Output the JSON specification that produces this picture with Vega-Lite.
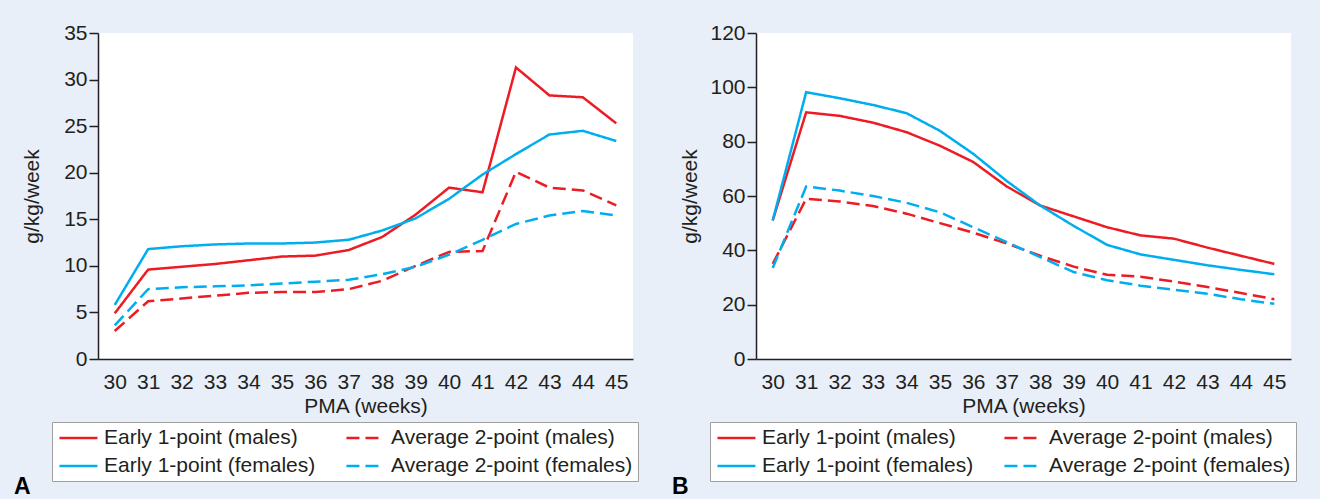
{
  "$schema": "https://vega.github.io/schema/vega-lite/v6.json",
  "background": "#e8eff8",
  "padding": {"left": 14, "top": 22, "right": 24, "bottom": 0},
  "datasets": {
    "A": [
      {"week": 30, "v": 4.9, "series": "Early 1-point (males)"},
      {"week": 31, "v": 9.6, "series": "Early 1-point (males)"},
      {"week": 32, "v": 9.9, "series": "Early 1-point (males)"},
      {"week": 33, "v": 10.2, "series": "Early 1-point (males)"},
      {"week": 34, "v": 10.6, "series": "Early 1-point (males)"},
      {"week": 35, "v": 11.0, "series": "Early 1-point (males)"},
      {"week": 36, "v": 11.1, "series": "Early 1-point (males)"},
      {"week": 37, "v": 11.7, "series": "Early 1-point (males)"},
      {"week": 38, "v": 13.1, "series": "Early 1-point (males)"},
      {"week": 39, "v": 15.5, "series": "Early 1-point (males)"},
      {"week": 40, "v": 18.4, "series": "Early 1-point (males)"},
      {"week": 41, "v": 17.9, "series": "Early 1-point (males)"},
      {"week": 42, "v": 31.3, "series": "Early 1-point (males)"},
      {"week": 43, "v": 28.3, "series": "Early 1-point (males)"},
      {"week": 44, "v": 28.1, "series": "Early 1-point (males)"},
      {"week": 45, "v": 25.3, "series": "Early 1-point (males)"},
      {"week": 30, "v": 3.0, "series": "Average 2-point (males)"},
      {"week": 31, "v": 6.2, "series": "Average 2-point (males)"},
      {"week": 32, "v": 6.5, "series": "Average 2-point (males)"},
      {"week": 33, "v": 6.8, "series": "Average 2-point (males)"},
      {"week": 34, "v": 7.1, "series": "Average 2-point (males)"},
      {"week": 35, "v": 7.2, "series": "Average 2-point (males)"},
      {"week": 36, "v": 7.2, "series": "Average 2-point (males)"},
      {"week": 37, "v": 7.5, "series": "Average 2-point (males)"},
      {"week": 38, "v": 8.4, "series": "Average 2-point (males)"},
      {"week": 39, "v": 10.0, "series": "Average 2-point (males)"},
      {"week": 40, "v": 11.5, "series": "Average 2-point (males)"},
      {"week": 41, "v": 11.6, "series": "Average 2-point (males)"},
      {"week": 42, "v": 20.1, "series": "Average 2-point (males)"},
      {"week": 43, "v": 18.4, "series": "Average 2-point (males)"},
      {"week": 44, "v": 18.1, "series": "Average 2-point (males)"},
      {"week": 45, "v": 16.5, "series": "Average 2-point (males)"},
      {"week": 30, "v": 5.8, "series": "Early 1-point (females)"},
      {"week": 31, "v": 11.8, "series": "Early 1-point (females)"},
      {"week": 32, "v": 12.1, "series": "Early 1-point (females)"},
      {"week": 33, "v": 12.3, "series": "Early 1-point (females)"},
      {"week": 34, "v": 12.4, "series": "Early 1-point (females)"},
      {"week": 35, "v": 12.4, "series": "Early 1-point (females)"},
      {"week": 36, "v": 12.5, "series": "Early 1-point (females)"},
      {"week": 37, "v": 12.8, "series": "Early 1-point (females)"},
      {"week": 38, "v": 13.8, "series": "Early 1-point (females)"},
      {"week": 39, "v": 15.1, "series": "Early 1-point (females)"},
      {"week": 40, "v": 17.2, "series": "Early 1-point (females)"},
      {"week": 41, "v": 19.8, "series": "Early 1-point (females)"},
      {"week": 42, "v": 22.0, "series": "Early 1-point (females)"},
      {"week": 43, "v": 24.1, "series": "Early 1-point (females)"},
      {"week": 44, "v": 24.5, "series": "Early 1-point (females)"},
      {"week": 45, "v": 23.4, "series": "Early 1-point (females)"},
      {"week": 30, "v": 3.6, "series": "Average 2-point (females)"},
      {"week": 31, "v": 7.5, "series": "Average 2-point (females)"},
      {"week": 32, "v": 7.7, "series": "Average 2-point (females)"},
      {"week": 33, "v": 7.8, "series": "Average 2-point (females)"},
      {"week": 34, "v": 7.9, "series": "Average 2-point (females)"},
      {"week": 35, "v": 8.1, "series": "Average 2-point (females)"},
      {"week": 36, "v": 8.3, "series": "Average 2-point (females)"},
      {"week": 37, "v": 8.5, "series": "Average 2-point (females)"},
      {"week": 38, "v": 9.1, "series": "Average 2-point (females)"},
      {"week": 39, "v": 9.9, "series": "Average 2-point (females)"},
      {"week": 40, "v": 11.2, "series": "Average 2-point (females)"},
      {"week": 41, "v": 12.8, "series": "Average 2-point (females)"},
      {"week": 42, "v": 14.5, "series": "Average 2-point (females)"},
      {"week": 43, "v": 15.4, "series": "Average 2-point (females)"},
      {"week": 44, "v": 15.9, "series": "Average 2-point (females)"},
      {"week": 45, "v": 15.4, "series": "Average 2-point (females)"}
    ],
    "B": [
      {"week": 30, "v": 51, "series": "Early 1-point (males)"},
      {"week": 31, "v": 90.8, "series": "Early 1-point (males)"},
      {"week": 32, "v": 89.5, "series": "Early 1-point (males)"},
      {"week": 33, "v": 87, "series": "Early 1-point (males)"},
      {"week": 34, "v": 83.5, "series": "Early 1-point (males)"},
      {"week": 35, "v": 78.5, "series": "Early 1-point (males)"},
      {"week": 36, "v": 72.5, "series": "Early 1-point (males)"},
      {"week": 37, "v": 63.5, "series": "Early 1-point (males)"},
      {"week": 38, "v": 56.5, "series": "Early 1-point (males)"},
      {"week": 39, "v": 52.5, "series": "Early 1-point (males)"},
      {"week": 40, "v": 48.5, "series": "Early 1-point (males)"},
      {"week": 41, "v": 45.5, "series": "Early 1-point (males)"},
      {"week": 42, "v": 44.3, "series": "Early 1-point (males)"},
      {"week": 43, "v": 41, "series": "Early 1-point (males)"},
      {"week": 44, "v": 38, "series": "Early 1-point (males)"},
      {"week": 45, "v": 35, "series": "Early 1-point (males)"},
      {"week": 30, "v": 35, "series": "Average 2-point (males)"},
      {"week": 31, "v": 59, "series": "Average 2-point (males)"},
      {"week": 32, "v": 58, "series": "Average 2-point (males)"},
      {"week": 33, "v": 56.3, "series": "Average 2-point (males)"},
      {"week": 34, "v": 53.5, "series": "Average 2-point (males)"},
      {"week": 35, "v": 50, "series": "Average 2-point (males)"},
      {"week": 36, "v": 46.5, "series": "Average 2-point (males)"},
      {"week": 37, "v": 42.5, "series": "Average 2-point (males)"},
      {"week": 38, "v": 38, "series": "Average 2-point (males)"},
      {"week": 39, "v": 34, "series": "Average 2-point (males)"},
      {"week": 40, "v": 31, "series": "Average 2-point (males)"},
      {"week": 41, "v": 30.3, "series": "Average 2-point (males)"},
      {"week": 42, "v": 28.5, "series": "Average 2-point (males)"},
      {"week": 43, "v": 26.5, "series": "Average 2-point (males)"},
      {"week": 44, "v": 24.3, "series": "Average 2-point (males)"},
      {"week": 45, "v": 22, "series": "Average 2-point (males)"},
      {"week": 30, "v": 51, "series": "Early 1-point (females)"},
      {"week": 31, "v": 98.2, "series": "Early 1-point (females)"},
      {"week": 32, "v": 96, "series": "Early 1-point (females)"},
      {"week": 33, "v": 93.5, "series": "Early 1-point (females)"},
      {"week": 34, "v": 90.5, "series": "Early 1-point (females)"},
      {"week": 35, "v": 84, "series": "Early 1-point (females)"},
      {"week": 36, "v": 75.5, "series": "Early 1-point (females)"},
      {"week": 37, "v": 65.5, "series": "Early 1-point (females)"},
      {"week": 38, "v": 56.5, "series": "Early 1-point (females)"},
      {"week": 39, "v": 49, "series": "Early 1-point (females)"},
      {"week": 40, "v": 42, "series": "Early 1-point (females)"},
      {"week": 41, "v": 38.5, "series": "Early 1-point (females)"},
      {"week": 42, "v": 36.5, "series": "Early 1-point (females)"},
      {"week": 43, "v": 34.5, "series": "Early 1-point (females)"},
      {"week": 44, "v": 32.8, "series": "Early 1-point (females)"},
      {"week": 45, "v": 31.2, "series": "Early 1-point (females)"},
      {"week": 30, "v": 33.5, "series": "Average 2-point (females)"},
      {"week": 31, "v": 63.5, "series": "Average 2-point (females)"},
      {"week": 32, "v": 62, "series": "Average 2-point (females)"},
      {"week": 33, "v": 60, "series": "Average 2-point (females)"},
      {"week": 34, "v": 57.5, "series": "Average 2-point (females)"},
      {"week": 35, "v": 54, "series": "Average 2-point (females)"},
      {"week": 36, "v": 48.5, "series": "Average 2-point (females)"},
      {"week": 37, "v": 43, "series": "Average 2-point (females)"},
      {"week": 38, "v": 37.5, "series": "Average 2-point (females)"},
      {"week": 39, "v": 32, "series": "Average 2-point (females)"},
      {"week": 40, "v": 29, "series": "Average 2-point (females)"},
      {"week": 41, "v": 27, "series": "Average 2-point (females)"},
      {"week": 42, "v": 25.5, "series": "Average 2-point (females)"},
      {"week": 43, "v": 24, "series": "Average 2-point (females)"},
      {"week": 44, "v": 22, "series": "Average 2-point (females)"},
      {"week": 45, "v": 20.3, "series": "Average 2-point (females)"}
    ]
  },
  "hconcat": [
    {
      "data": {"name": "A"},
      "width": 535,
      "height": 326,
      "title": {"text": "A", "orient": "bottom", "anchor": "start", "dx": -7, "offset": -6, "fontSize": 23, "fontWeight": "bold", "color": "#000000"},
      "mark": {"type": "line", "strokeWidth": 2.5},
      "encoding": {
        "x": {"field": "week", "type": "quantitative", "scale": {"domain": [29.5, 45.5], "nice": false, "zero": false}, "axis": {"values": [30,31,32,33,34,35,36,37,38,39,40,41,42,43,44,45], "title": "PMA (weeks)"}},
        "y": {"field": "v", "type": "quantitative", "scale": {"domain": [0, 35], "nice": false}, "axis": {"values": [0,5,10,15,20,25,30,35], "title": "g/kg/week"}},
        "color": {"field": "series", "type": "nominal", "scale": {"domain": ["Early 1-point (males)", "Average 2-point (males)", "Early 1-point (females)", "Average 2-point (females)"], "range": ["#ed1c24", "#ed1c24", "#00aeef", "#00aeef"]}, "legend": {"title": null}},
        "strokeDash": {"field": "series", "type": "nominal", "scale": {"domain": ["Early 1-point (males)", "Average 2-point (males)", "Early 1-point (females)", "Average 2-point (females)"], "range": [[1, 0], [13, 6], [1, 0], [13, 6]]}, "legend": {"title": null}}
      }
    },
    {
      "data": {"name": "B"},
      "width": 535,
      "height": 326,
      "title": {"text": "B", "orient": "bottom", "anchor": "start", "dx": -7, "offset": -6, "fontSize": 23, "fontWeight": "bold", "color": "#000000"},
      "mark": {"type": "line", "strokeWidth": 2.5},
      "encoding": {
        "x": {"field": "week", "type": "quantitative", "scale": {"domain": [29.5, 45.5], "nice": false, "zero": false}, "axis": {"values": [30,31,32,33,34,35,36,37,38,39,40,41,42,43,44,45], "title": "PMA (weeks)"}},
        "y": {"field": "v", "type": "quantitative", "scale": {"domain": [0, 120], "nice": false}, "axis": {"values": [0,20,40,60,80,100,120], "title": "g/kg/week"}},
        "color": {"field": "series", "type": "nominal", "scale": {"domain": ["Early 1-point (males)", "Average 2-point (males)", "Early 1-point (females)", "Average 2-point (females)"], "range": ["#ed1c24", "#ed1c24", "#00aeef", "#00aeef"]}, "legend": {"title": null}},
        "strokeDash": {"field": "series", "type": "nominal", "scale": {"domain": ["Early 1-point (males)", "Average 2-point (males)", "Early 1-point (females)", "Average 2-point (females)"], "range": [[1, 0], [13, 6], [1, 0], [13, 6]]}, "legend": {"title": null}}
      }
    }
  ],
  "spacing": 33,
  "resolve": {"scale": {"color": "independent", "strokeDash": "independent"}, "legend": {"color": "independent", "strokeDash": "independent"}},
  "config": {
    "font": "Liberation Sans",
    "view": {"fill": "white", "stroke": null},
    "axis": {
      "grid": false,
      "domainColor": "#231f20",
      "domainWidth": 1.5,
      "tickColor": "#231f20",
      "tickWidth": 1.5,
      "labelFontSize": 21,
      "labelColor": "#231f20",
      "titleFontSize": 21,
      "titleFontWeight": "normal",
      "titleColor": "#231f20"
    },
    "axisY": {
      "tickSize": 9,
      "labelPadding": 2,
      "titleX": -66,
      "titleY": 163,
      "titleAngle": -90,
      "titleAlign": "center",
      "titleBaseline": "middle"
    },
    "axisX": {
      "ticks": false,
      "tickSize": 0,
      "labelPadding": 12,
      "labelFlush": false,
      "labelOverlap": false,
      "titlePadding": 3
    },
    "legend": {
      "orient": "none",
      "legendX": -46,
      "legendY": 389,
      "columns": 2,
      "direction": "horizontal",
      "strokeColor": "#a0a0a0",
      "fillColor": "white",
      "padding": 5,
      "symbolType": "M-0.9,0H3.1",
      "symbolSize": 361,
      "symbolStrokeWidth": 2.5,
      "labelFontSize": 21,
      "labelColor": "#231f20",
      "labelOffset": 25,
      "labelLimit": 400,
      "columnPadding": 25,
      "rowPadding": 7
    }
  }
}
